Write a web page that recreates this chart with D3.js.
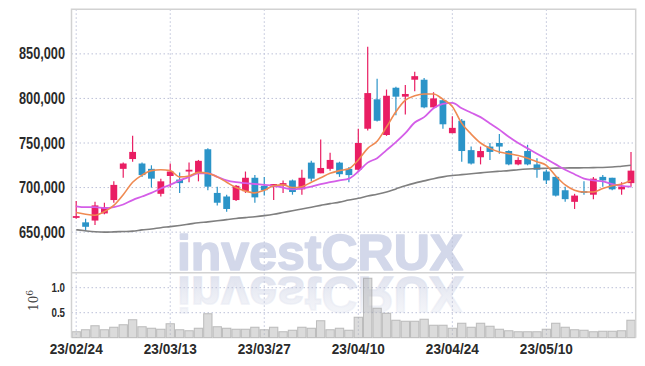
<!DOCTYPE html>
<html><head><meta charset="utf-8">
<script src="https://cdn.jsdelivr.net/npm/d3@7"></script>
<style>body{margin:0;background:#fff}svg{display:block}</style>
</head><body>
<svg id="c" width="645" height="366"></svg>
<script>
const dates = ["23/02/24","23/02/27","23/02/28","23/03/02","23/03/03","23/03/06","23/03/07","23/03/08","23/03/09","23/03/10",
"23/03/13","23/03/14","23/03/15","23/03/16","23/03/17","23/03/20","23/03/21","23/03/22","23/03/23","23/03/24",
"23/03/27","23/03/28","23/03/29","23/03/30","23/03/31","23/04/03","23/04/04","23/04/05","23/04/06","23/04/07",
"23/04/10","23/04/11","23/04/12","23/04/13","23/04/14","23/04/17","23/04/18","23/04/19","23/04/20","23/04/21",
"23/04/24","23/04/25","23/04/26","23/04/27","23/04/28","23/05/02","23/05/03","23/05/04","23/05/08","23/05/09",
"23/05/10","23/05/11","23/05/12","23/05/15","23/05/16","23/05/17","23/05/18","23/05/19","23/05/22","23/05/23"];
const opens  = [666,661,663,671,686,721,732,727,721,693, 713,709,718,716,743,694,690,686,696,711, 702,701,703,708,698,728,716,721,728,721,
                720,766,799,759,812,802,821,821,790,798, 761,775,742,734,746,750,741,726,741,726, 718,712,697,684,696,692,712,711,698,705].map(v=>v*1000);
const highs  = [685,665,684,683,707,728,758,728,725,710, 727,717,728,731,744,701,692,703,718,714, 712,704,708,709,720,730,754,739,729,723,
                766,858,822,810,813,815,830,823,807,799, 780,777,746,746,750,760,742,734,748,733, 720,713,701,693,707,712,714,711,706,740].map(v=>v*1000);
const lows   = [665,651,658,670,683,711,729,712,700,690, 700,694,706,707,697,680,673,685,694,683, 691,686,694,692,692,707,716,719,712,706,
                719,764,774,758,781,782,808,789,789,766, 761,729,726,726,731,738,725,725,725,711, 704,690,684,676,692,687,701,697,692,701].map(v=>v*1000);
const closes = [668,656,680,678,703,727,740,714,710,707, 718,705,720,730,701,683,676,702,711,689, 697,704,705,695,711,710,722,731,715,714,
                750,806,775,803,802,805,825,790,800,771, 767,741,727,741,740,746,726,731,726,720, 708,691,687,691,694,710,708,698,701,719].map(v=>v*1000);
const volumes = [0.12,0.16,0.24,0.16,0.21,0.26,0.36,0.22,0.19,0.17, 0.28,0.16,0.14,0.19,0.48,0.22,0.19,0.17,0.17,0.21,
                 0.16,0.21,0.12,0.15,0.21,0.19,0.34,0.16,0.19,0.15, 0.41,1.19,0.59,0.49,0.35,0.33,0.33,0.37,0.25,0.25,
                 0.19,0.29,0.21,0.29,0.23,0.17,0.14,0.12,0.12,0.12, 0.17,0.29,0.21,0.16,0.15,0.12,0.13,0.13,0.14,0.35].map(v=>v*1e6);
const maShort = [672,670,669,673,680,692,706,714,719,720, 719,712,713,717,716,712,706,700,696,694, 697,702,703,700,701,706,711,716,719,721,
                 731,744,752,768,785,798,803,805,805,799, 791,772,760,750,744,740,738,736,733,729, 725,713,703,697,695,695,699,702,704,708].map(v=>v*1000);
const maMid = [679,678,678,677,678,681,686,690,694,699, 703,708,712,716,716,712,708,706,705,704, 703,702,700,698,699,701,704,706,708,710,
               718,728,733,742,751,761,773,779,789,794, 795,789,784,779,772,765,757,750,744,738, 732,726,720,715,710,708,707,704,702,701].map(v=>v*1000);
const maLong = [652.7,651.5,650.5,650,650.3,650.7,651.1,652.5,653.5,655, 656.2,657.5,659,660.5,661.5,662.7,664,665.3,666.3,667.3,
                668.5,670,672,674,676,678,680,682,683.7,686, 688,690.5,692.5,695,698.5,702,705,707.5,710,712,
                713.5,714.5,715.5,716.5,717.5,718.3,719,720,720.8,721.4, 721.6,721.8,722,722.1,722.2,722.4,722.5,723,724,725].map(v=>v*1000);
const priceTicks = [650000,700000,750000,800000,850000];
const volTicks = [0.5e6,1.0e6];
const dateTicks = [0,10,20,30,40,50];

const L=71.5,R=635.7,T=9.3,MID=272.7,B=337.7;
const svg=d3.select('#c');
const idx=d3.range(dates.length);
const x=d3.scaleBand().domain(idx).range([L,R]).padding(0);
const bw=x.bandwidth();
const cx=i=>x(i)+bw/2;
const y=d3.scaleLinear().domain([604500,900000]).range([MID,T]);
const yv=d3.scaleLinear().domain([0,1.3e6]).range([B,MID]);

// watermark
const defs=svg.append('defs');
const g1=defs.append('linearGradient').attr('id','refl').attr('gradientUnits','userSpaceOnUse')
  .attr('x1',0).attr('y1',271).attr('x2',0).attr('y2',228);
g1.append('stop').attr('offset',0).attr('stop-color','#dfe2ee').attr('stop-opacity',0.95);
g1.append('stop').attr('offset',1).attr('stop-color','#eef0f6').attr('stop-opacity',0.5);
const wm=svg.append('g');
wm.append('text').attr('x',320).attr('y',270).attr('text-anchor','middle')
  .attr('font-family','Liberation Sans, Arial, sans-serif').attr('font-weight','bold').attr('font-size',50)
  .attr('fill','#d3d8ea').attr('stroke','#d3d8ea').attr('stroke-width',1.6).attr('stroke-linejoin','round')
  .text('investCRUX');
wm.append('text').attr('x',320).attr('y',271).attr('text-anchor','middle')
  .attr('transform','translate(0,548) scale(1,-1)')
  .attr('font-family','Liberation Sans, Arial, sans-serif').attr('font-weight','bold').attr('font-size',50)
  .attr('fill','url(#refl)').attr('stroke','url(#refl)').attr('stroke-width',1.6).text('investCRUX');

// grid
const grid=svg.append('g').attr('stroke','#bcc1d8').attr('stroke-width',1).attr('stroke-dasharray','1.5,2.5');
priceTicks.forEach(t=>grid.append('line').attr('x1',L).attr('x2',R).attr('y1',y(t)).attr('y2',y(t)));
volTicks.forEach(t=>grid.append('line').attr('x1',L).attr('x2',R).attr('y1',yv(t)).attr('y2',yv(t)));
dateTicks.forEach(t=>grid.append('line').attr('x1',cx(t)).attr('x2',cx(t)).attr('y1',T).attr('y2',B));

// volume bars
svg.append('g').selectAll('rect').data(idx).join('rect')
  .attr('x',i=>x(i)+0.5).attr('width',bw-1)
  .attr('y',i=>yv(volumes[i])).attr('height',i=>B-yv(volumes[i]))
  .attr('fill','rgba(175,175,175,0.45)').attr('stroke','rgba(150,150,150,0.55)').attr('stroke-width',1);

// frame
const fr=svg.append('g').attr('stroke','#d2d2d2').attr('stroke-width',1.5).attr('fill','none');
fr.append('path').attr('d',`M${L},${B}V${T}H${R}V${B}`);
fr.append('line').attr('x1',L).attr('x2',R).attr('y1',MID).attr('y2',MID);

// candles
const up='#e91e63', down='#2b94c8';
const cg=svg.append('g');
cg.selectAll('line').data(idx).join('line')
  .attr('x1',cx).attr('x2',cx).attr('y1',i=>y(highs[i])).attr('y2',i=>y(lows[i]))
  .attr('stroke',i=>closes[i]>=opens[i]?up:down).attr('stroke-width',1.2);
const bodyW=6.8;
cg.selectAll('rect').data(idx).join('rect')
  .attr('x',i=>cx(i)-bodyW/2).attr('width',bodyW)
  .attr('y',i=>y(Math.max(opens[i],closes[i])))
  .attr('height',i=>Math.max(1.5,Math.abs(y(opens[i])-y(closes[i]))))
  .attr('fill',i=>closes[i]>=opens[i]?up:down);

// MA lines
const line=d3.line().x((v,i)=>cx(i)).y(v=>y(v)).curve(d3.curveMonotoneX);
svg.append('path').attr('d',line(maLong)).attr('fill','none').attr('stroke','#7f7f7f').attr('stroke-width',1.6);
svg.append('path').attr('d',line(maMid)).attr('fill','none').attr('stroke','#d45ee8').attr('stroke-width',1.8);
svg.append('path').attr('d',line(maShort)).attr('fill','none').attr('stroke','#ef8a52').attr('stroke-width',1.6);

// axes
const fnt='Liberation Sans, Arial, sans-serif';
const ya=svg.append('g').attr('transform',`translate(${L},0)`)
  .call(d3.axisLeft(y).tickValues(priceTicks).tickFormat(d3.format(',')).tickSize(0).tickPadding(6.5));
ya.select('.domain').remove();
ya.selectAll('text').attr('font-family',fnt).attr('font-size',16).attr('font-weight','bold').attr('fill','#2a2a2a')
  .attr('textLength',46).attr('lengthAdjust','spacingAndGlyphs');
const va=svg.append('g').attr('transform',`translate(${L},0)`)
  .call(d3.axisLeft(yv).tickValues(volTicks).tickFormat(d=>(d/1e6).toFixed(1)).tickSize(0).tickPadding(6.5));
va.select('.domain').remove();
va.selectAll('text').attr('font-family',fnt).attr('font-size',12.5).attr('font-weight','bold').attr('fill','#2a2a2a')
  .attr('textLength',13.5).attr('lengthAdjust','spacingAndGlyphs');
const xa=svg.append('g').attr('transform',`translate(0,${B})`)
  .call(d3.axisBottom(x).tickValues(dateTicks).tickFormat(i=>dates[i]).tickSize(0).tickPadding(5.5));
xa.select('.domain').remove();
xa.selectAll('text').attr('font-family',fnt).attr('font-size',15).attr('font-weight','bold').attr('fill','#2a2a2a')
  .attr('textLength',53).attr('lengthAdjust','spacingAndGlyphs');

// volume unit label
const ul=svg.append('text').attr('transform','translate(38,311) rotate(-90)')
  .attr('font-family','DejaVu Serif, serif').attr('font-size',12).attr('fill','#444');
ul.append('tspan').text('10');
ul.append('tspan').attr('dy',-5).attr('font-size',9).text('6');
</script>
</body></html>
